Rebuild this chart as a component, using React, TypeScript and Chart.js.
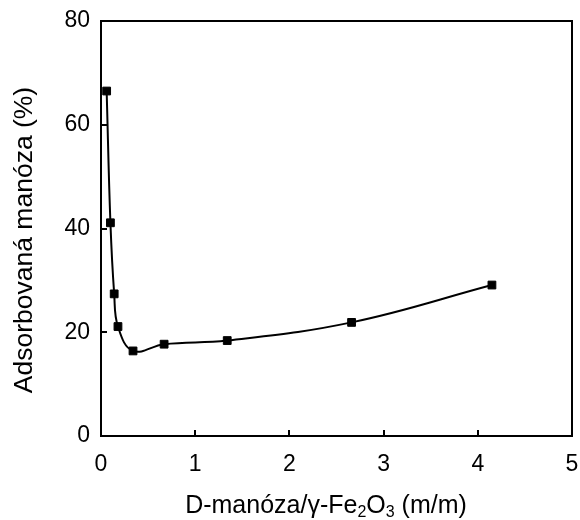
import React, { useEffect, useRef } from "react";
import { Chart, registerables } from "chart.js";

Chart.register(...registerables);

// ---- data ----
const massRatio = [0.06, 0.1, 0.14, 0.18, 0.34, 0.67, 1.34, 2.66, 4.15];
const adsorbed = [66.5, 41.1, 27.4, 21.1, 16.4, 17.7, 18.4, 21.9, 29.1];
const xTicks = [0, 1, 2, 3, 4, 5];
const yTicks = [0, 20, 40, 60, 80];
const yTitle = "Adsorbovaná manóza (%)";
const xTitleParts = [
  { text: "D-manóza/γ-Fe", sub: false },
  { text: "2", sub: true },
  { text: "O", sub: false },
  { text: "3", sub: true },
  { text: " (m/m)", sub: false },
];

const FONT = '"Liberation Sans", Arial, sans-serif';

const framePlugin = {
  id: "frame",
  afterDraw(chart: any) {
    const { ctx, chartArea: a, scales } = chart;
    ctx.save();
    ctx.strokeStyle = "#000";
    ctx.lineWidth = 2;
    ctx.strokeRect(a.left, a.top, a.right - a.left, a.bottom - a.top);
    ctx.beginPath();
    for (const v of xTicks) {
      const px = Math.round(scales.x.getPixelForValue(v));
      ctx.moveTo(px, a.bottom);
      ctx.lineTo(px, a.bottom - 6);
    }
    for (const v of yTicks) {
      const py = Math.round(scales.y.getPixelForValue(v));
      ctx.moveTo(a.left, py);
      ctx.lineTo(a.left + 6, py);
    }
    ctx.stroke();

    ctx.fillStyle = "#000";
    // y title
    ctx.save();
    ctx.translate(32, 240);
    ctx.rotate(-Math.PI / 2);
    ctx.font = `26.5px ${FONT}`;
    ctx.textAlign = "center";
    ctx.textBaseline = "alphabetic";
    ctx.fillText(yTitle, 0, 0);
    ctx.restore();

    // x title with subscripts
    const mainFont = `25px ${FONT}`;
    const subFont = `16px ${FONT}`;
    ctx.textAlign = "left";
    ctx.textBaseline = "alphabetic";
    let total = 0;
    const widths = xTitleParts.map((p) => {
      ctx.font = p.sub ? subFont : mainFont;
      const w = ctx.measureText(p.text).width;
      total += w;
      return w;
    });
    let x = 326 - total / 2;
    const baseY = 513;
    xTitleParts.forEach((p, i) => {
      ctx.font = p.sub ? subFont : mainFont;
      ctx.fillText(p.text, x, p.sub ? baseY + 4 : baseY);
      x += widths[i];
    });
    ctx.restore();
  },
};

export default function App() {
  const ref = useRef<HTMLCanvasElement | null>(null);

  useEffect(() => {
    document.body.style.margin = "0";
    const canvas = ref.current;
    if (!canvas) return;
    Chart.defaults.color = "#000";
    const chart = new Chart(canvas, {
      type: "line",
      data: {
        datasets: [
          {
            data: massRatio.map((x, i) => ({ x, y: adsorbed[i] })),
            borderColor: "#000",
            backgroundColor: "#000",
            borderWidth: 2,
            tension: 0.4,
            pointStyle: "rect",
            pointRadius: 5.5,
            pointBorderWidth: 1,
            pointBackgroundColor: "#000",
            pointBorderColor: "#000",
            fill: false,
          },
        ],
      },
      options: {
        responsive: false,
        animation: false,
        events: [],
        layout: { padding: { top: 21, right: 8, left: 0, bottom: 0 } },
        plugins: {
          legend: { display: false },
          tooltip: { enabled: false },
        },
        scales: {
          x: {
            type: "linear",
            min: 0,
            max: 5,
            grid: { display: false, drawTicks: false },
            border: { display: false },
            afterBuildTicks: (s: any) => {
              s.ticks = xTicks.map((v) => ({ value: v }));
            },
            afterFit: (s: any) => {
              s.height = 84;
              s.paddingLeft = 0;
              s.paddingRight = 0;
            },
            ticks: {
              font: { family: FONT, size: 23 },
              color: "#000",
              padding: 15,
              maxRotation: 0,
              autoSkip: false,
            },
          },
          y: {
            type: "linear",
            min: 0,
            max: 80,
            grid: { display: false, drawTicks: false },
            border: { display: false },
            afterBuildTicks: (s: any) => {
              s.ticks = yTicks.map((v) => ({ value: v }));
            },
            afterFit: (s: any) => {
              s.width = 101;
              s.paddingTop = 0;
              s.paddingBottom = 0;
            },
            ticks: {
              font: { family: FONT, size: 23 },
              color: "#000",
              padding: 11,
              autoSkip: false,
            },
          },
        },
      },
      plugins: [framePlugin],
    } as any);
    return () => chart.destroy();
  }, []);

  return (
    <div style={{ width: 580, height: 520, background: "#fff" }}>
      <canvas ref={ref} width={580} height={520} style={{ display: "block" }} />
    </div>
  );
}
